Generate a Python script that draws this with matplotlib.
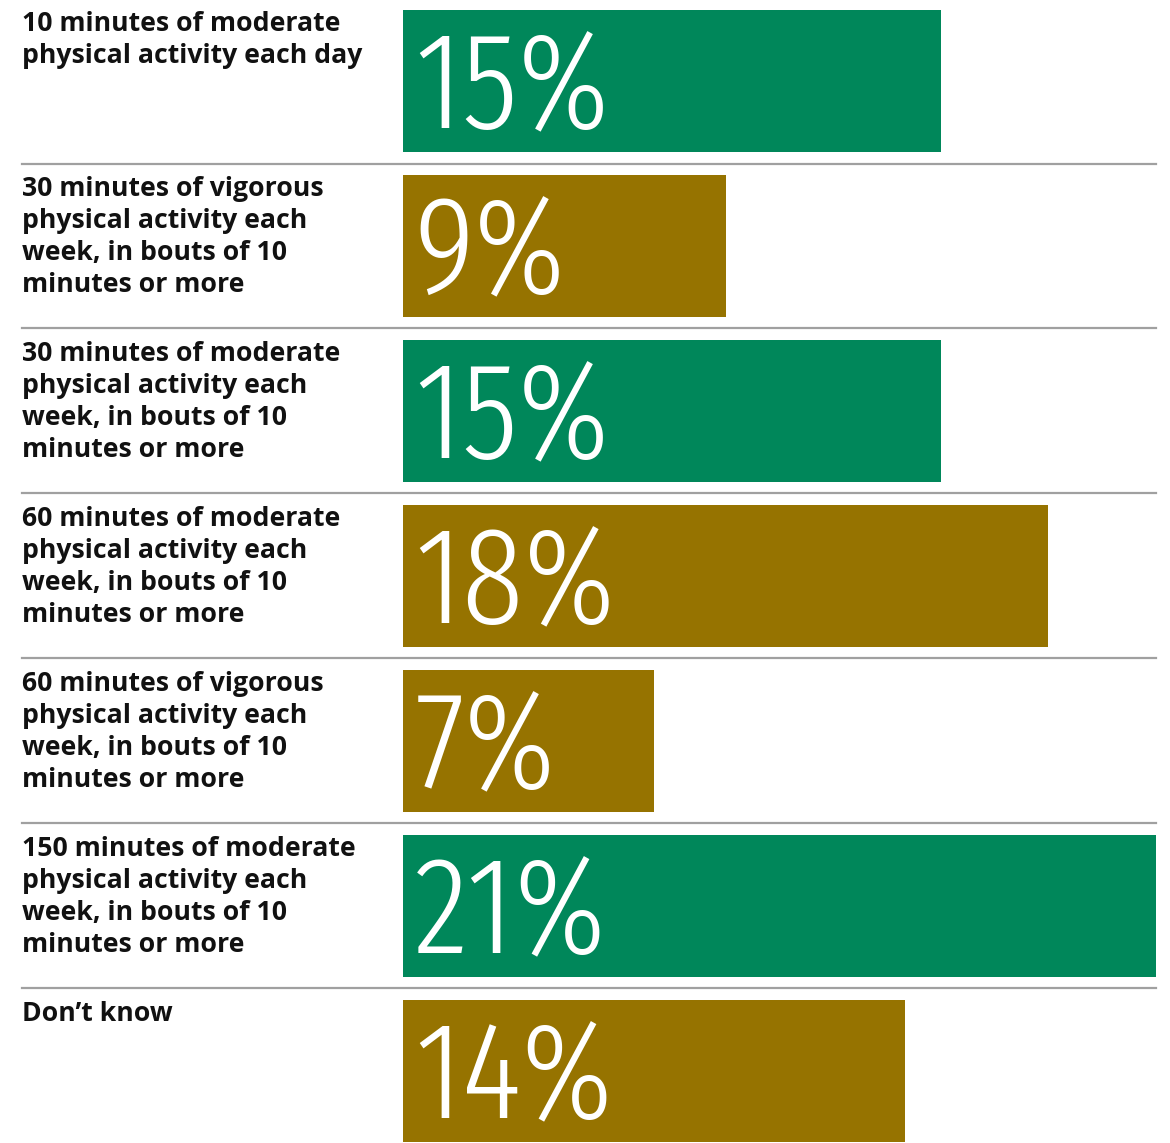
import matplotlib.pyplot as plt
from matplotlib.transforms import blended_transform_factory

labels = [
    "10 minutes of moderate\nphysical activity each day",
    "30 minutes of vigorous\nphysical activity each\nweek, in bouts of 10\nminutes or more",
    "30 minutes of moderate\nphysical activity each\nweek, in bouts of 10\nminutes or more",
    "60 minutes of moderate\nphysical activity each\nweek, in bouts of 10\nminutes or more",
    "60 minutes of vigorous\nphysical activity each\nweek, in bouts of 10\nminutes or more",
    "150 minutes of moderate\nphysical activity each\nweek, in bouts of 10\nminutes or more",
    "Don\u2019t know",
]
values = [15, 9, 15, 18, 7, 21, 14]
colors = ["#00875A", "#967300", "#00875A", "#967300", "#967300", "#00875A", "#967300"]

W, H = 1170, 1143
fig = plt.figure(figsize=(W / 100, H / 100), dpi=100)

# bars run from x=403px to 1156px, which is 0..21 %
x0, x1 = 403, 1156
row_px = 165
first_center = 81
ax = fig.add_axes([x0 / W, 0, (x1 - x0) / W, 1])
ax.set_xlim(0, 21)
ax.set_ylim((H - first_center) / row_px, -first_center / row_px)
ax.axis("off")

pos = list(range(len(values)))
ax.barh(pos, values, height=142 / row_px, color=colors, linewidth=0)

pct_font = ["Fira Sans Extra Condensed", "DejaVu Sans"]
for y, v in zip(pos, values):
    ax.text(0.33, y + 0.285, f"{v}%", color="white", fontsize=99,
            family=pct_font, fontweight=300, va="baseline", ha="left")

# row labels on the left, separator lines between rows
tr = blended_transform_factory(fig.transFigure, ax.transData)
for y, lab in zip(pos, labels):
    ax.text(22 / W, y - 0.425, lab, transform=tr, family="Open Sans",
            fontweight="bold", fontsize=19.2, color="#111111",
            va="top", ha="left", linespacing=1.31)
    if y < len(values) - 1:
        ax.plot([22 / W, x1 / W], [y + 0.5, y + 0.5], transform=tr,
                color="#a0a0a0", linewidth=1.6, clip_on=False)

fig.savefig("out.png", dpi=100, facecolor="white")
